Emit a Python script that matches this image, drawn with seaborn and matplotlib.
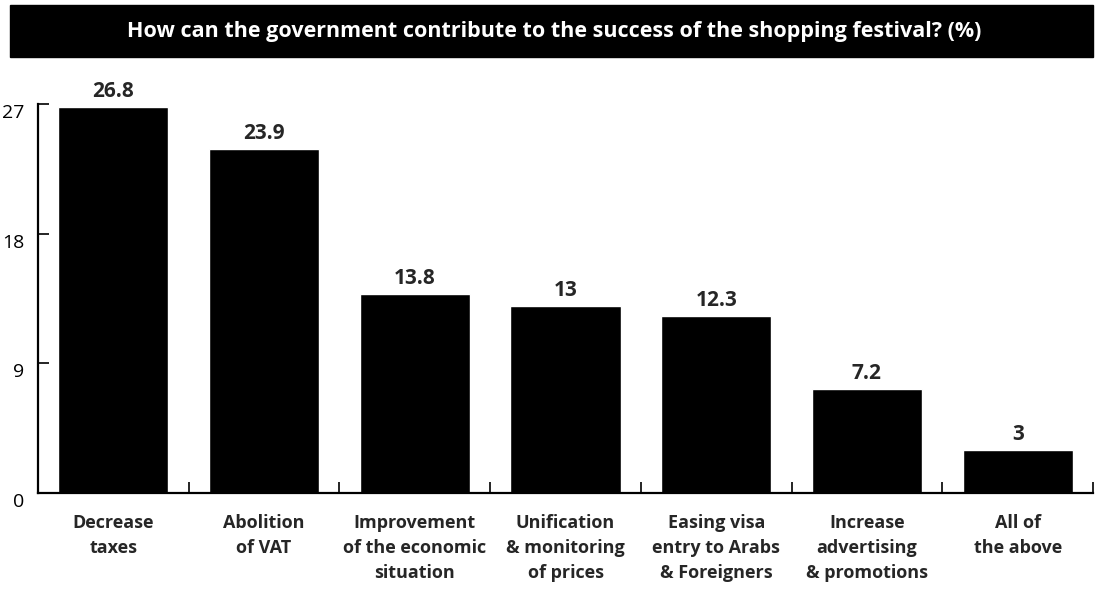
import matplotlib
matplotlib.use("Agg")
import matplotlib.pyplot as plt
import seaborn as sns
import pandas as pd
from matplotlib.patches import Rectangle
from matplotlib.transforms import ScaledTranslation

categories = [
    "Decrease\ntaxes",
    "Abolition\nof VAT",
    "Improvement\nof the economic\nsituation",
    "Unification\n& monitoring\nof prices",
    "Easing visa\nentry to Arabs\n& Foreigners",
    "Increase\nadvertising\n& promotions",
    "All of\nthe above",
]
values = [26.8, 23.9, 13.8, 13, 12.3, 7.2, 3]
value_labels = ["26.8", "23.9", "13.8", "13", "12.3", "7.2", "3"]
yticks = [0, 9, 18, 27]
title = "How can the government contribute to the success of the shopping festival? (%)"

sns.set_theme(style="white")
plt.rcParams["font.family"] = ["Open Sans", "DejaVu Sans"]

df = pd.DataFrame({"cat": categories, "val": values})

fig = plt.figure(figsize=(11.03, 5.93), dpi=100)
ax = fig.add_axes([38 / 1103, 100 / 593, 1055 / 1103, 389 / 593])

sns.barplot(data=df, x="cat", y="val", color="black", width=0.73,
            saturation=1, ax=ax)

ax.set_xlim(-0.5, len(categories) - 0.5)
ax.set_ylim(0, 27)
ax.set_xlabel("")
ax.set_ylabel("")

for spine in ["top", "right"]:
    ax.spines[spine].set_visible(False)
for spine in ["left", "bottom"]:
    ax.spines[spine].set_color("black")
    ax.spines[spine].set_linewidth(1.6)

ax.set_yticks(yticks)
ax.set_yticklabels([str(t) for t in yticks])
ax.tick_params(axis="y", direction="in", length=8, width=1.2, colors="black",
               pad=10, left=True, labelsize=14)
for lab in ax.get_yticklabels():
    lab.set_transform(lab.get_transform() +
                      ScaledTranslation(0, -7 / 100, fig.dpi_scale_trans))

ax.set_xticks(range(len(categories)))
ax.set_xticklabels(categories, fontsize=13, fontweight="bold",
                   linespacing=1.5)
ax.tick_params(axis="x", which="major", length=0, pad=15)
ax.set_xticks([i + 0.5 for i in range(len(categories))], minor=True)
ax.tick_params(axis="x", which="minor", direction="in", length=8, width=1.2,
               colors="black", bottom=True)
ax.grid(False)

for i, (v, lab) in enumerate(zip(values, value_labels)):
    ax.annotate(lab, (i, v), xytext=(0, 3.5), textcoords="offset points",
                ha="center", va="bottom", fontsize=15, fontweight="bold")

fig.patches.append(Rectangle((10 / 1103, 1 - 57 / 593), 1083 / 1103, 52 / 593,
                             transform=fig.transFigure, color="black",
                             zorder=0))
fig.text(554 / 1103, 1 - 31 / 593, title, ha="center", va="center",
         color="white", fontsize=15.5, fontweight="bold")

fig.savefig("out.png", dpi=100, facecolor="white")
